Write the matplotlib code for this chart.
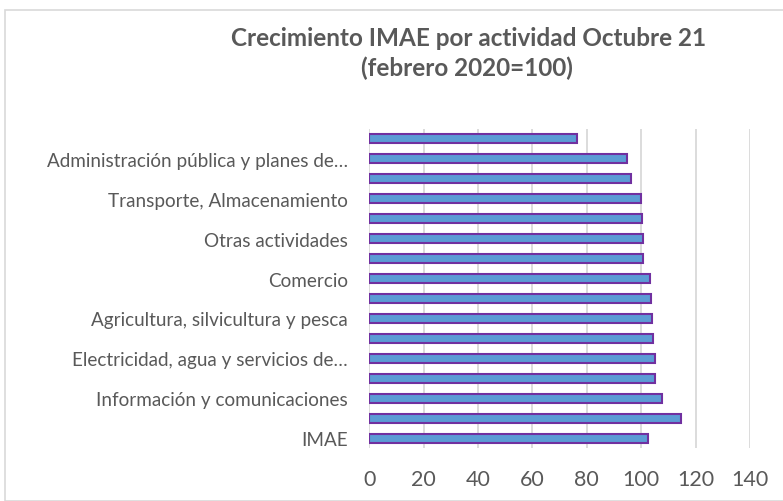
import matplotlib
matplotlib.use("Agg")
import matplotlib.pyplot as plt
from matplotlib.patches import Rectangle

# Data (bottom to top), only every other category label is visible in the chart
categories = ["IMAE", "", "Información y comunicaciones", "",
              "Electricidad, agua y servicios de…", "", "Agricultura, silvicultura y pesca", "",
              "Comercio", "", "Otras actividades", "",
              "Transporte, Almacenamiento", "", "Administración pública y planes de…", ""]
values = [102.4, 114.5, 107.6, 105.2, 105.0, 104.2, 104.1, 103.7,
          103.2, 100.8, 100.6, 100.2, 99.8, 96.1, 94.9, 76.3]
xticks = [0, 20, 40, 60, 80, 100, 120, 140]
title_line1 = "Crecimiento IMAE por actividad Octubre 21"
title_line2 = "(febrero 2020=100)"

plt.rcParams['font.family'] = ['Lato', 'DejaVu Sans']
txt = "#595959"

fig = plt.figure(figsize=(7.83, 5.02), dpi=100)
fig.patches.append(Rectangle((4.5 / 783, 0), 1, 1 - 11 / 502, transform=fig.transFigure,
                             fill=False, edgecolor="#D9D9D9", linewidth=1.2))

ax = fig.add_axes([369.3 / 783, 1 - 449 / 502, (750 - 369.3) / 783, (449 - 130) / 502])
pos = list(range(len(values)))
ax.barh(pos, values, height=0.45, color="#5B9BD5", edgecolor="#7030A0", linewidth=1.5, zorder=3)
ax.set_xlim(0, 140)
ax.set_ylim(-0.5, len(values) - 0.5)
ax.set_xticks(xticks)
ax.set_xticklabels([str(t) for t in xticks], fontsize=15.5, color=txt)
ax.set_yticks(pos)
ax.set_yticklabels(categories, fontsize=13.6, color=txt)
ax.tick_params(axis="both", length=0)
ax.tick_params(axis="x", pad=15)
ax.tick_params(axis="y", pad=15.5)
ax.grid(axis="x", color="#D9D9D9", linewidth=1.3, zorder=0)
for s in ax.spines.values():
    s.set_visible(False)

fig.text(469 / 783, 1 - 46 / 502, title_line1, ha="center", va="baseline", fontsize=17.5,
         fontweight="bold", color=txt)
fig.text(467 / 783, 1 - 76 / 502, title_line2, ha="center", va="baseline", fontsize=17.5,
         fontweight="bold", color=txt)

fig.savefig("out.png", dpi=100)
